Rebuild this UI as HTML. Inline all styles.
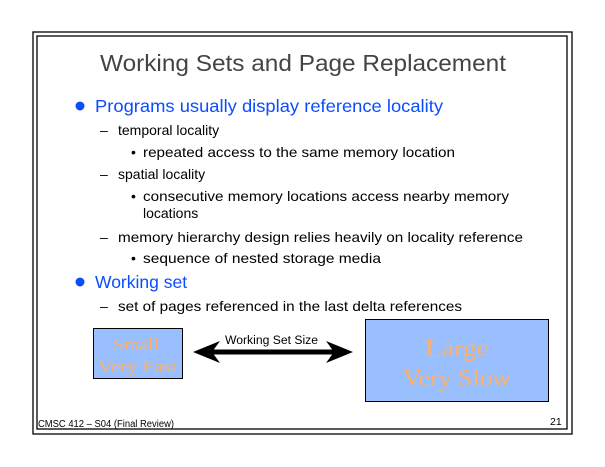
<!DOCTYPE html>
<html><head><meta charset="utf-8"><style>html,body{margin:0;padding:0;background:#fff}svg{display:block}</style></head>
<body>
<svg width="605" height="467" xmlns="http://www.w3.org/2000/svg" font-family="Liberation Sans, sans-serif">
<rect x="33" y="32" width="539" height="402" fill="none" stroke="#000" stroke-width="1.3"/>
<rect x="37" y="36" width="530" height="393" fill="none" stroke="#000" stroke-width="1.3"/>
<text x="100" y="71" font-size="23" fill="#444" textLength="406" lengthAdjust="spacingAndGlyphs">Working Sets and Page Replacement</text>
<g fill="#0a4cff" font-size="17.5">
<circle cx="80" cy="106" r="4.5"/>
<text x="95" y="112" textLength="348" lengthAdjust="spacingAndGlyphs">Programs usually display reference locality</text>
<circle cx="80" cy="282" r="4.5"/>
<text x="95" y="288">Working set</text>
</g>
<g fill="#000" font-size="14">
<text x="100" y="135">–</text><text x="118" y="135">temporal locality</text>
<text x="131" y="157">•</text><text x="143" y="157" textLength="312" lengthAdjust="spacingAndGlyphs">repeated access to the same memory location</text>
<text x="100" y="179">–</text><text x="118" y="179">spatial locality</text>
<text x="131" y="201">•</text><text x="143" y="201" textLength="366" lengthAdjust="spacingAndGlyphs">consecutive memory locations access nearby memory</text>
<text x="143" y="218">locations</text>
<text x="100" y="242">–</text><text x="118" y="242" textLength="405" lengthAdjust="spacingAndGlyphs">memory hierarchy design relies heavily on locality reference</text>
<text x="131" y="263">•</text><text x="143" y="263" textLength="238" lengthAdjust="spacingAndGlyphs">sequence of  nested storage media</text>
<text x="100" y="311">–</text><text x="118" y="311" textLength="344" lengthAdjust="spacingAndGlyphs">set of pages referenced in the last delta references</text>
</g>
<rect x="93.5" y="328.5" width="89" height="50" fill="#99bfff" stroke="#000"/>
<text x="113" y="350" font-family="Liberation Serif, serif" font-size="17" fill="#ffb066" textLength="46" lengthAdjust="spacingAndGlyphs">Small</text>
<text x="98" y="372" font-family="Liberation Serif, serif" font-size="17" fill="#ffb066" textLength="79" lengthAdjust="spacingAndGlyphs">Very Fast</text>
<rect x="365.5" y="319.5" width="183" height="82" fill="#99bfff" stroke="#000"/>
<text x="425" y="356" font-family="Liberation Serif, serif" font-size="24" fill="#ffb066" textLength="64" lengthAdjust="spacingAndGlyphs">Large</text>
<text x="403" y="386" font-family="Liberation Serif, serif" font-size="24" fill="#ffb066" textLength="108" lengthAdjust="spacingAndGlyphs">Very Slow</text>
<text x="225" y="344" font-size="11.5" fill="#000" textLength="93" lengthAdjust="spacingAndGlyphs">Working Set Size</text>
<line x1="210" y1="352" x2="338" y2="352" stroke="#000" stroke-width="5"/>
<polygon points="193,352 220,341 212,352 220,363" fill="#000"/>
<polygon points="353,352 326,341 334,352 326,363" fill="#000"/>
<text x="38" y="427" font-size="10" fill="#000" textLength="136" lengthAdjust="spacingAndGlyphs">CMSC 412 – S04  (Final Review)</text>
<text x="550" y="425" font-size="10.5" fill="#000">21</text>
</svg>
</body></html>
